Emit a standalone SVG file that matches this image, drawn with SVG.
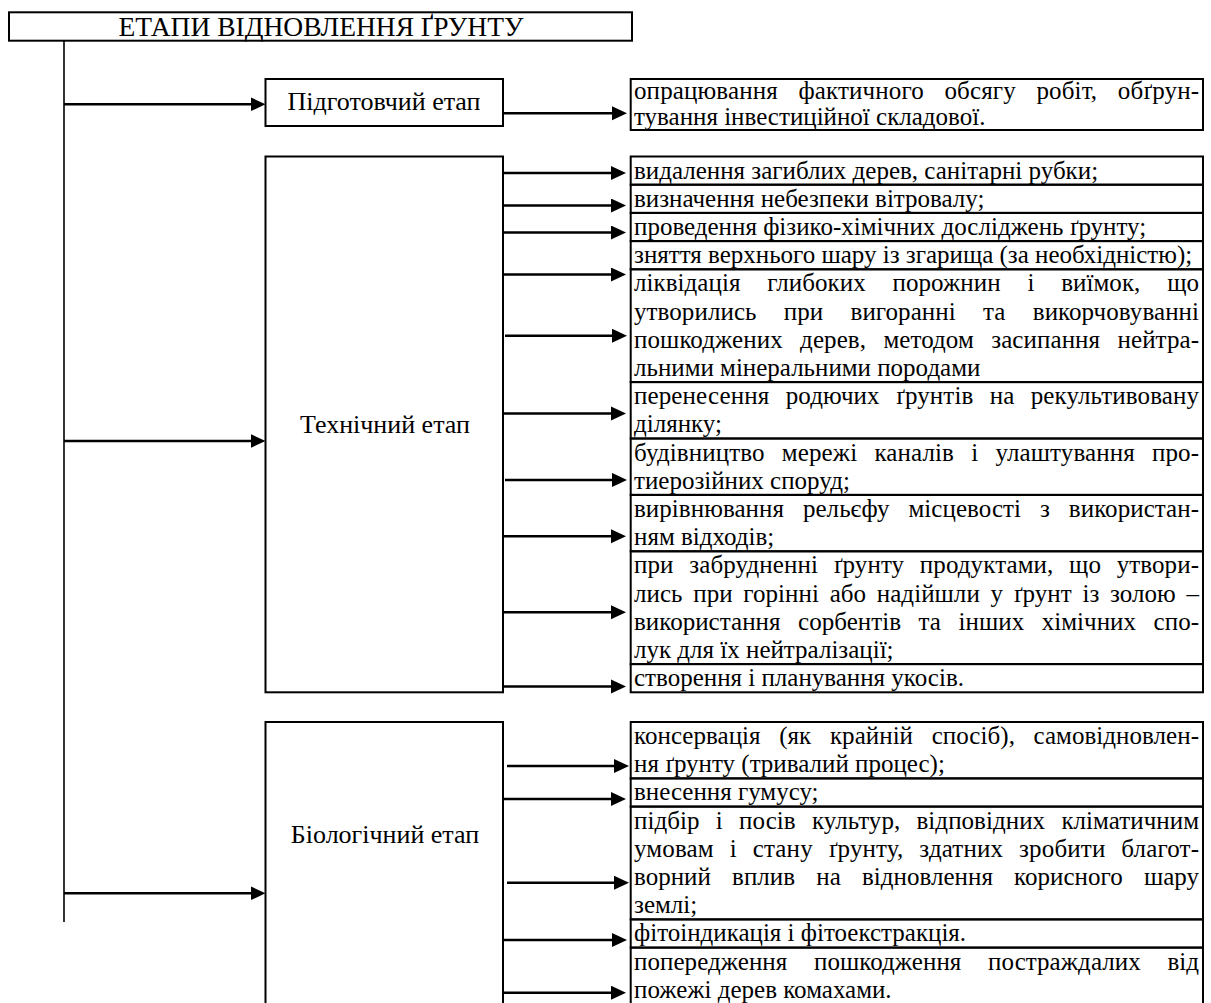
<svg xmlns="http://www.w3.org/2000/svg" width="1211" height="1003" viewBox="0 0 1211 1003">
<defs>
<style>
.box{fill:#fff;stroke:#000;stroke-width:2}
.cell{fill:none;stroke:#000;stroke-width:2}
.trunk{stroke:#000;stroke-width:1.6;fill:none}
.conn{stroke:#000;stroke-width:2.5;fill:none;marker-end:url(#ah)}
.t{font-family:"Liberation Serif","Times New Roman",serif;font-size:25px;fill:#000}
.lbl{font-family:"Liberation Serif","Times New Roman",serif;font-size:26px;fill:#000;text-anchor:middle}
.ttl{font-family:"Liberation Serif","Times New Roman",serif;font-size:27.5px;fill:#000;text-anchor:middle}
</style>
<marker id="ah" markerUnits="userSpaceOnUse" markerWidth="16" markerHeight="15" refX="9" refY="7" orient="auto">
<path d="M0,0 L15,7 L0,14 z" fill="#000"/>
</marker>
</defs>
<rect width="1211" height="1003" fill="#fff"/>

<g id="connectors">
<path class="trunk" d="M64,40.7 V922"/>
<path class="conn" d="M64,104.3 H259.5"/>
<path class="conn" d="M64,441 H259.5"/>
<path class="conn" d="M64,893.3 H259.5"/>
<path class="conn" d="M503,113.3 H621"/>
<path class="conn" d="M503,173 H620"/>
<path class="conn" d="M503,205.5 H620"/>
<path class="conn" d="M503,232.5 H620"/>
<path class="conn" d="M503,274.5 H620"/>
<path class="conn" d="M505,335.7 H621"/>
<path class="conn" d="M503,413.4 H620"/>
<path class="conn" d="M505,479.9 H621"/>
<path class="conn" d="M503,536.3 H620"/>
<path class="conn" d="M503,612.2 H620"/>
<path class="conn" d="M503,686.4 H620"/>
<path class="conn" d="M507,766 H623"/>
<path class="conn" d="M503,799 H620"/>
<path class="conn" d="M507,882.7 H623"/>
<path class="conn" d="M504,940 H621"/>
<path class="conn" d="M503,992.7 H620"/>
</g>

<g id="title">
<rect class="box" x="9" y="12.3" width="623" height="28.4"/>
<text class="ttl" x="321" y="36">ЕТАПИ ВІДНОВЛЕННЯ ҐРУНТУ</text>
</g>

<g id="stage-prep">
<rect class="box" x="265.5" y="79" width="237.5" height="47"/>
<text class="lbl" x="384" y="110">Підготовчий етап</text>
</g>
<g id="prep-item">
<rect class="cell" x="630.7" y="79" width="572.3" height="51"/>
<text class="t" x="634" y="99" textLength="565" lengthAdjust="spacing" word-spacing="14.3">опрацювання фактичного обсягу робіт, обґрун-</text>
<text class="t" x="634" y="124.5">тування інвестиційної складової.</text>
</g>

<g id="stage-tech">
<rect class="box" x="265.5" y="156.5" width="237.5" height="535.8"/>
<text class="lbl" x="385" y="433">Технічний етап</text>
</g>

<g id="tech-1"><rect class="cell" x="630.7" y="156.5" width="572.3" height="28.2"/><text class="t" x="634" y="178.5">видалення загиблих дерев, санітарні рубки;</text></g>
<g id="tech-2"><rect class="cell" x="630.7" y="184.7" width="572.3" height="28.2"/><text class="t" x="634" y="206.7">визначення небезпеки вітровалу;</text></g>
<g id="tech-3"><rect class="cell" x="630.7" y="212.9" width="572.3" height="28.2"/><text class="t" x="634" y="234.9">проведення фізико-хімічних досліджень ґрунту;</text></g>
<g id="tech-4"><rect class="cell" x="630.7" y="241.1" width="572.3" height="28.2"/><text class="t" x="634" y="263.1">зняття верхнього шару із згарища (за необхідністю);</text></g>
<g id="tech-5"><rect class="cell" x="630.7" y="269.3" width="572.3" height="112.8"/>
<text class="t" x="634" y="291.3" textLength="565" lengthAdjust="spacing" word-spacing="20.5">ліквідація глибоких порожнин і виїмок, що</text>
<text class="t" x="634" y="319.5" textLength="565" lengthAdjust="spacing" word-spacing="20.9">утворились при вигоранні та викорчовуванні</text>
<text class="t" x="634" y="347.7" textLength="565" lengthAdjust="spacing" word-spacing="11">пошкоджених дерев, методом засипання нейтра-</text>
<text class="t" x="634" y="375.9">льними мінеральними породами</text></g>
<g id="tech-6"><rect class="cell" x="630.7" y="382.1" width="572.3" height="56.4"/>
<text class="t" x="634" y="404.1" textLength="565" lengthAdjust="spacing" word-spacing="9.9">перенесення родючих ґрунтів на рекультивовану</text>
<text class="t" x="634" y="432.3">ділянку;</text></g>
<g id="tech-7"><rect class="cell" x="630.7" y="438.5" width="572.3" height="56.4"/>
<text class="t" x="634" y="460.5" textLength="565" lengthAdjust="spacing" word-spacing="10.8">будівництво мережі каналів і улаштування про-</text>
<text class="t" x="634" y="488.7">тиерозійних споруд;</text></g>
<g id="tech-8"><rect class="cell" x="630.7" y="494.9" width="572.3" height="56.4"/>
<text class="t" x="634" y="516.9" textLength="565" lengthAdjust="spacing" word-spacing="12.6">вирівнювання рельєфу місцевості з використан-</text>
<text class="t" x="634" y="545.1">ням відходів;</text></g>
<g id="tech-9"><rect class="cell" x="630.7" y="551.3" width="572.3" height="112.8"/>
<text class="t" x="634" y="573.3" textLength="565" lengthAdjust="spacing" word-spacing="9.3">при забрудненні ґрунту продуктами, що утвори-</text>
<text class="t" x="634" y="601.5" textLength="565" lengthAdjust="spacing" word-spacing="4.4">лись при горінні або надійшли у ґрунт із золою –</text>
<text class="t" x="634" y="629.7" textLength="565" lengthAdjust="spacing" word-spacing="11.3">використання сорбентів та інших хімічних спо-</text>
<text class="t" x="634" y="657.9">лук для їх нейтралізації;</text></g>
<g id="tech-10"><rect class="cell" x="630.7" y="664.1" width="572.3" height="28.2"/><text class="t" x="634" y="686.1">створення і планування укосів.</text></g>

<g id="stage-bio">
<rect class="box" x="265.5" y="722" width="237.5" height="300"/>
<text class="lbl" x="385" y="843">Біологічний етап</text>
</g>

<g id="bio-1"><rect class="cell" x="630.7" y="722" width="572.3" height="56.4"/>
<text class="t" x="634" y="744" textLength="565" lengthAdjust="spacing" word-spacing="12.3">консервація (як крайній спосіб), самовідновлен-</text>
<text class="t" x="634" y="772.2">ня ґрунту (тривалий процес);</text></g>
<g id="bio-2"><rect class="cell" x="630.7" y="778.4" width="572.3" height="28.2"/><text class="t" x="634" y="800.4">внесення гумусу;</text></g>
<g id="bio-3"><rect class="cell" x="630.7" y="806.6" width="572.3" height="112.8"/>
<text class="t" x="634" y="828.6" textLength="565" lengthAdjust="spacing" word-spacing="10">підбір і посів культур, відповідних кліматичним</text>
<text class="t" x="634" y="856.8" textLength="565" lengthAdjust="spacing" word-spacing="9.5">умовам і стану ґрунту, здатних зробити благот-</text>
<text class="t" x="634" y="885" textLength="565" lengthAdjust="spacing" word-spacing="14.9">ворний вплив на відновлення корисного шару</text>
<text class="t" x="634" y="913.2">землі;</text></g>
<g id="bio-4"><rect class="cell" x="630.7" y="919.4" width="572.3" height="28.2"/><text class="t" x="634" y="941.4">фітоіндикація і фітоекстракція.</text></g>
<g id="bio-5"><rect class="cell" x="630.7" y="947.6" width="572.3" height="80"/>
<text class="t" x="634" y="969.6" textLength="565" lengthAdjust="spacing" word-spacing="20.3">попередження пошкодження постраждалих від</text>
<text class="t" x="634" y="997.8">пожежі дерев комахами.</text></g>
</svg>
